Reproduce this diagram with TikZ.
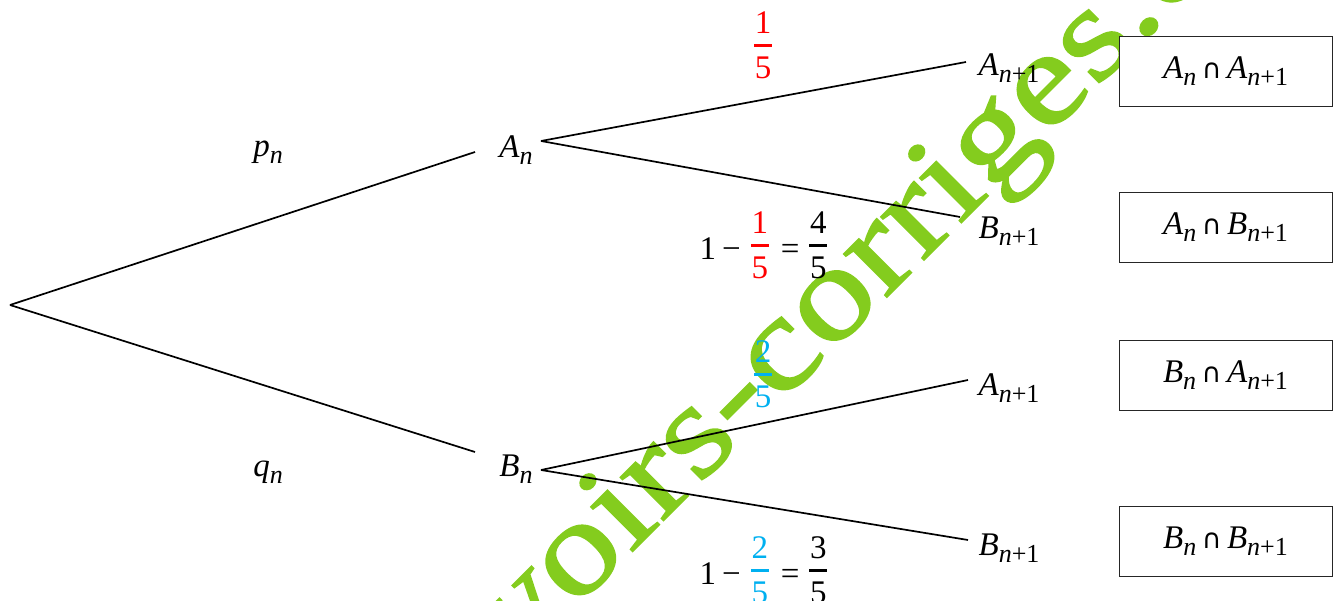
\documentclass[tikz,border=0pt]{standalone}
\usepackage{fontspec}
\setmainfont{Liberation Serif}
\newfontfamily\symfont{DejaVu Sans}
\newfontfamily\wmfont{Liberation Serif}[FakeBold=1.2]
\definecolor{wm}{RGB}{132,204,30}
\definecolor{myblue}{RGB}{0,176,240}
\definecolor{myred}{RGB}{255,0,0}
\newcommand\bigf{\fontsize{33}{36}\selectfont}
\newcommand\sbs[1]{\raisebox{-0.22em}{\fontsize{26}{26}\selectfont\textit{#1}}}
\newcommand\sbsum{\raisebox{-0.22em}{\fontsize{26}{26}\selectfont\textit{n}+1}}
\newcommand\An{\textit{A}\sbs{n}}
\newcommand\Bn{\textit{B}\sbs{n}}
\newcommand\Ap{\textit{A}\sbsum}
\newcommand\Bp{\textit{B}\sbsum}
\newcommand\capp{\,{\symfont\fontsize{27}{27}\selectfont ∩}\,}
\newcommand\frc[3]{{\color{#1}$\vcenter{\hbox{\vbox{\hsize=18pt\offinterlineskip
  \hbox to 18pt{\hss\fontsize{33}{36}\selectfont #2\hss}\kern11pt
  \hrule height 2.6pt\kern10pt
  \hbox to 18pt{\hss\fontsize{33}{36}\selectfont #3\hss}}}}$}}
\newcommand\lowr[1]{\raisebox{-8.5pt}{#1}}
\tikzset{
  lbl/.style={inner sep=0pt,font=\bigf,text=black},
  branch/.style={draw=black,line width=1.7pt},
  resbox/.style={draw=black!85,line width=0.9pt,fill=white,minimum width=213pt,minimum height=70pt,inner sep=0pt,font=\bigf},
  wmark/.style={inner sep=0pt,anchor=base west,rotate=45,text=wm}
}
\begin{document}
\begin{tikzpicture}[x=1pt,y=-1pt]
\useasboundingbox (0,0) rectangle (1338,601);
\begin{scope}
\clip (0,0) rectangle (1338,601);
\node[wmark] (wm) at (413,771) {\scalebox{1}[0.84]{\wmfont\fontsize{158}{170}\selectfont devoirs-corriges.com}};
\end{scope}
% nodes
\coordinate (root) at (10,305);
\coordinate (AnIn) at (475,152);
\coordinate (AnOut) at (541,141);
\coordinate (BnIn) at (475,452);
\coordinate (BnOut) at (541,470);
\coordinate (AAin) at (966,62);
\coordinate (ABin) at (960,217);
\coordinate (BAin) at (968,380);
\coordinate (BBin) at (968,540);
\node[lbl] (An) at (516,150) {\An};
\node[lbl] (Bn) at (516,469) {\Bn};
\node[lbl] (AA) at (1009,68) {\Ap};
\node[lbl] (AB) at (1009,231) {\Bp};
\node[lbl] (BA) at (1009,388) {\Ap};
\node[lbl] (BB) at (1009,548) {\Bp};
\node[lbl] (pn) at (268,152) {\textit{p}\sbs{n}};
\node[lbl] (qn) at (268,472) {\textit{q}\sbs{n}};
\node[lbl] (f1) at (763,45) {\frc{myred}{1}{5}};
\node[lbl] (f2) at (763.5,245) {\lowr{1\kern6pt−\kern10pt}\frc{myred}{1}{5}\lowr{\kern12pt=\kern10pt}\frc{black}{4}{5}};
\node[lbl] (f3) at (763,374) {\frc{myblue}{2}{5}};
\node[lbl] (f4) at (763.5,570) {\lowr{1\kern6pt−\kern10pt}\frc{myblue}{2}{5}\lowr{\kern12pt=\kern10pt}\frc{black}{3}{5}};
\draw[branch] (root) -- (AnIn);
\draw[branch] (root) -- (BnIn);
\draw[branch] (AnOut) -- (AAin);
\draw[branch] (AnOut) -- (ABin);
\draw[branch] (BnOut) -- (BAin);
\draw[branch] (BnOut) -- (BBin);
\node[resbox] (r1) at (1225.5,71) {\An\capp\Ap};
\node[resbox] (r2) at (1225.5,227) {\An\capp\Bp};
\node[resbox] (r3) at (1225.5,375) {\Bn\capp\Ap};
\node[resbox] (r4) at (1225.5,541) {\Bn\capp\Bp};
\end{tikzpicture}
\end{document}
